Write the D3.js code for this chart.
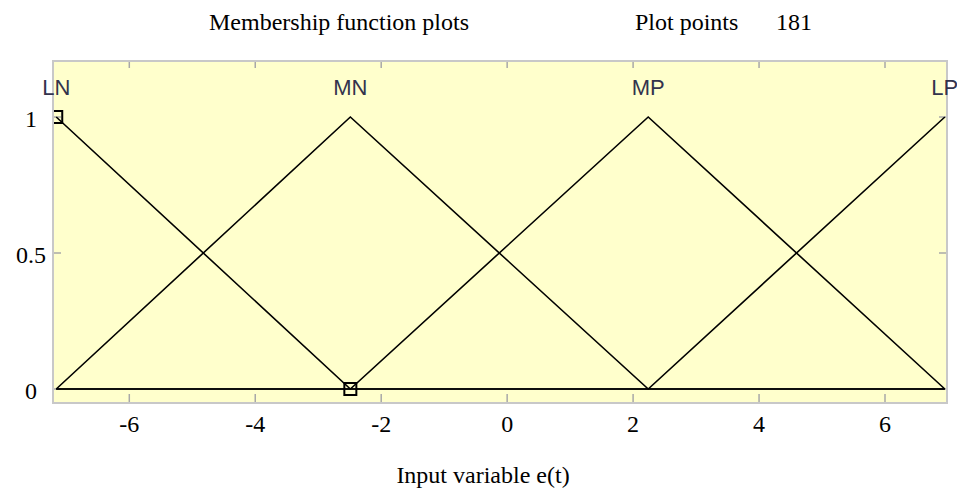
<!DOCTYPE html>
<html>
<head>
<meta charset="utf-8">
<script src="https://cdn.jsdelivr.net/npm/d3@7"></script>
<style>
  html, body { margin: 0; padding: 0; background: #fff; }
  svg { display: block; }
</style>
</head>
<body>
<svg id="chart" width="957" height="490"></svg>
<script>
// Input range of e(t) and the membership functions defined on it
const xRange = [-7.16, 6.95];
const mfNames = ["LN", "MN", "MP", "LP"];
const mfPeaks = [-7.16, -2.49, 2.24, 6.95];
// Vertices (x, membership) of each function across the whole range
const mfLN = [[-7.16, 1], [-2.49, 0], [6.95, 0]];
const mfMN = [[-7.16, 0], [-2.49, 1], [2.24, 0], [6.95, 0]];
const mfMP = [[-7.16, 0], [-2.49, 0], [2.24, 1], [6.95, 0]];
const mfLP = [[-7.16, 0], [2.24, 0], [6.95, 1]];
const mfSeries = [mfLN, mfMN, mfMP, mfLP];
// Vertices of the currently selected function (LN) shown as small squares
const selectedVertices = [[-7.16, 1], [-2.49, 0]];
const xTicks = [-6, -4, -2, 0, 2, 4, 6];
const yTicks = [0, 0.5, 1];
const yTickLabels = ["0", "0.5", "1"];
const plotPoints = 181;

const svg = d3.select("#chart");
const box = { left: 53, right: 947, top: 61, bottom: 403 };

// Scales calibrated to the axis ticks
const x = d3.scaleLinear().domain([-6, 6]).range([129.3, 885]);
const y = d3.scaleLinear().domain([0, 1]).range([389, 117]);

const serif = "'Liberation Serif', 'Times New Roman', serif";

// Plot background
svg.append("rect")
  .attr("x", box.left).attr("y", box.top)
  .attr("width", box.right - box.left).attr("height", box.bottom - box.top)
  .attr("fill", "#ffffcc");

svg.append("clipPath").attr("id", "plotclip")
  .append("rect")
  .attr("x", box.left).attr("y", box.top)
  .attr("width", box.right - box.left).attr("height", box.bottom - box.top);

// Inward ticks on bottom/top and left/right edges
const tickColor = "#a8a8a8";
const tg = svg.append("g").attr("stroke", tickColor).attr("stroke-width", 1.5);
xTicks.forEach(t => {
  tg.append("line").attr("x1", x(t)).attr("x2", x(t)).attr("y1", box.bottom).attr("y2", box.bottom - 9);
  tg.append("line").attr("x1", x(t)).attr("x2", x(t)).attr("y1", box.top).attr("y2", box.top + 7);
});
yTicks.forEach(t => {
  tg.append("line").attr("y1", y(t)).attr("y2", y(t)).attr("x1", box.left).attr("x2", box.left + 8);
  tg.append("line").attr("y1", y(t)).attr("y2", y(t)).attr("x1", box.right).attr("x2", box.right - 8);
});

// Membership function lines
const line = d3.line().x(d => x(d[0])).y(d => y(d[1]));
const lg = svg.append("g").attr("clip-path", "url(#plotclip)");
mfSeries.forEach(s => {
  lg.append("path").attr("d", line(s))
    .attr("fill", "none").attr("stroke", "#000").attr("stroke-width", 1.6);
});

// Vertex markers of the selected function
lg.selectAll("rect.vtx").data(selectedVertices).join("rect")
  .attr("class", "vtx")
  .attr("x", d => x(d[0]) - 6).attr("y", d => y(d[1]) - 6)
  .attr("width", 12).attr("height", 12)
  .attr("fill", "none").attr("stroke", "#000").attr("stroke-width", 2);

// Plot border
svg.append("rect")
  .attr("x", box.left).attr("y", box.top)
  .attr("width", box.right - box.left).attr("height", box.bottom - box.top)
  .attr("fill", "none").attr("stroke", "#c8c8c8").attr("stroke-width", 2);

// Function names above each peak
svg.selectAll("text.mf").data(mfNames).join("text")
  .attr("class", "mf")
  .attr("x", (d, i) => x(mfPeaks[i]))
  .attr("y", 95)
  .attr("text-anchor", "middle")
  .attr("font-family", "'Liberation Sans', Arial, sans-serif")
  .attr("font-size", 22)
  .attr("fill", "#33334d")
  .text(d => d);

// X tick labels
svg.selectAll("text.xt").data(xTicks).join("text")
  .attr("class", "xt")
  .attr("x", d => x(d)).attr("y", 432)
  .attr("text-anchor", "middle")
  .attr("font-family", serif).attr("font-size", 24)
  .text(d => d);

// Y tick labels
svg.selectAll("text.yt").data(yTicks).join("text")
  .attr("class", "yt")
  .attr("x", 31).attr("y", d => y(d) + 10)
  .attr("text-anchor", "middle")
  .attr("font-family", serif).attr("font-size", 24)
  .text((d, i) => yTickLabels[i]);

// Headings
svg.append("text").attr("x", 209).attr("y", 30)
  .attr("font-family", serif).attr("font-size", 24)
  .text("Membership function plots");
svg.append("text").attr("x", 635).attr("y", 30)
  .attr("font-family", serif).attr("font-size", 24)
  .text("Plot points");
svg.append("text").attr("x", 776).attr("y", 30)
  .attr("font-family", serif).attr("font-size", 24)
  .text(plotPoints);

// Axis title
svg.append("text").attr("x", 483).attr("y", 483)
  .attr("text-anchor", "middle")
  .attr("font-family", serif).attr("font-size", 24)
  .text("Input variable e(t)");
</script>
</body>
</html>
